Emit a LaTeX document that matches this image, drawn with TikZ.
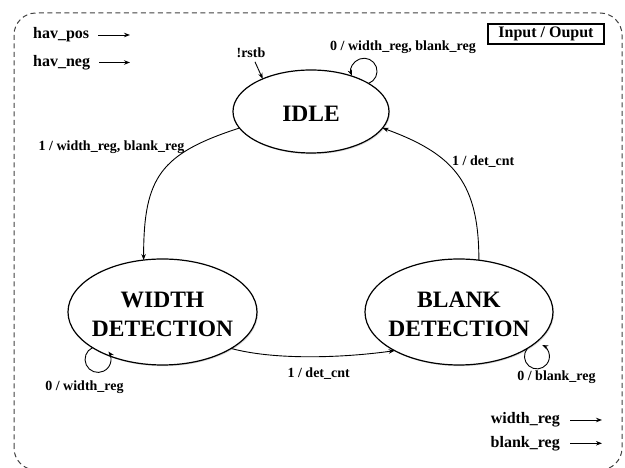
\documentclass[tikz,border=0pt]{standalone}
\usepackage{fontspec}
\setmainfont{Liberation Serif}
\usetikzlibrary{arrows.meta,shapes.geometric,shadows}

\begin{document}
\begin{tikzpicture}[x=1pt,y=1pt,
  font=\bfseries,
  state/.style={ellipse, draw, line width=1.2pt, fill=white, inner sep=0pt, outer sep=0pt,
    drop shadow={shadow xshift=1pt, shadow yshift=-1.2pt, opacity=0.3}},
  statetext/.style={font=\fontsize{23.5}{29}\selectfont\bfseries, align=center, inner sep=0pt},
  elabel/.style={font=\fontsize{14}{16}\selectfont\bfseries, inner sep=0pt},
  iolabel/.style={font=\fontsize{16}{18}\selectfont\bfseries, inner sep=0pt},
  trans/.style={line width=0.9pt, -{Stealth[length=6pt,width=4.5pt]}},
  ioarrow/.style={line width=0.9pt, -{Stealth[length=6pt,width=4.5pt]}},
  frame/.style={line width=1pt, black!75, dash pattern=on 5pt off 3.5pt, rounded corners=22pt},
]
\useasboundingbox (0,0) rectangle (625,468);

% outer dashed frame, running off the bottom edge
\begin{scope}
  \clip (0,0) rectangle (625,468);
  \draw[frame] (14,-2) rectangle (622,455);
\end{scope}

% states
\node[state, minimum width=156pt, minimum height=83pt] (idle) at (311,356.5) {};
\node[statetext, yshift=-2pt] (idlet) at (idle) {IDLE};
\node[state, minimum width=189pt, minimum height=106pt] (wd) at (162.5,156) {};
\node[statetext, yshift=-2pt] (wdt) at (wd) {WIDTH\\DETECTION};
\node[state, minimum width=188pt, minimum height=106pt] (bd) at (459,156) {};
\node[statetext, yshift=-2pt] (bdt) at (bd) {BLANK\\DETECTION};

% transitions between states
\draw[trans] (idle.193) to[out=198,in=90,looseness=1.3] (wd.110.6);
\draw[trans] (bd.69) to[out=90,in=-20,looseness=1.2] (idle.-13.7);
\draw[trans] (wd.-28.7) to[out=-15,in=188,looseness=0.75] (bd.211.8);

% self loops
\draw[trans] (idle.26) arc[start angle=-70, end angle=200, radius=13pt];
\draw[trans] (wd.207) arc[start angle=115, end angle=397, radius=13pt];
\draw[trans] (bd.-28) arc[start angle=140, end angle=425, radius=12.5pt];

% transition labels
\node[elabel] (l1) at (111.5,321) {1 / width\_reg, blank\_reg};
\node[elabel] (l2) at (483.3,306.3) {1 / det\_cnt};
\node[elabel] (l3) at (318.7,94.7) {1 / det\_cnt};
\node[elabel] (l0i) at (403,421) {0 / width\_reg, blank\_reg};
\node[elabel] (l0w) at (84.5,81.3) {0 / width\_reg};
\node[elabel] (l0b) at (556.5,90.7) {0 / blank\_reg};

% reset entry
\node[elabel] (rstb) at (251,415) {!rstb};
\draw[trans, shorten <=4pt] (rstb) -- (idle.146.7);

% inputs
\node[iolabel, anchor=west] (hp) at (33,433) {hav\_pos};
\node[iolabel, anchor=west] (hn) at (33,405.5) {hav\_neg};
\coordinate (hpo) at (130,433);
\coordinate (hno) at (130,405.5);
\draw[ioarrow, shorten <=9pt] (hp.east) -- (hpo);
\draw[ioarrow, shorten <=9pt] (hn.east) -- (hno);

% outputs
\node[iolabel, anchor=east] (wr) at (560,48) {width\_reg};
\node[iolabel, anchor=east] (br) at (560,24.7) {blank\_reg};
\coordinate (wro) at (602,48);
\coordinate (bro) at (602,24.7);
\draw[ioarrow, shorten <=10pt] (wr.east) -- (wro);
\draw[ioarrow, shorten <=10pt] (br.east) -- (bro);

% legend box
\node[draw, line width=1.2pt, fill=white, minimum width=116pt, minimum height=20pt, inner sep=0pt,
  iolabel, drop shadow={shadow xshift=1pt, shadow yshift=-1pt, opacity=0.3}] (io) at (546,434) {Input / Ouput};
\end{tikzpicture}
\end{document}
